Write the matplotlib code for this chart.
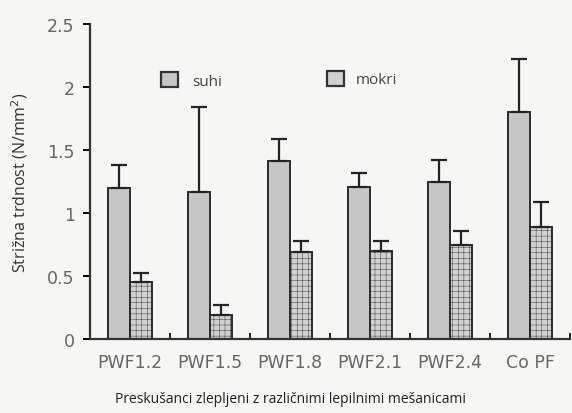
import numpy as np
import matplotlib
matplotlib.use("Agg")
import matplotlib.pyplot as plt
from matplotlib.patches import Patch

# data
groups = ["PWF1.2", "PWF1.5", "PWF1.8", "PWF2.1", "PWF2.4", "Co PF"]
suhi = [1.20, 1.17, 1.41, 1.21, 1.25, 1.80]
suhi_err = [0.18, 0.67, 0.18, 0.11, 0.17, 0.42]
mokri = [0.45, 0.19, 0.69, 0.70, 0.75, 0.89]
mokri_err = [0.07, 0.08, 0.09, 0.08, 0.11, 0.20]
yticks = [0, 0.5, 1, 1.5, 2, 2.5]
yticklabels = ["0", "0.5", "1", "1.5", "2", "2.5"]

bg = "#f6f6f4"
plt.rcParams["hatch.color"] = "#bdbdbd"
plt.rcParams["hatch.linewidth"] = 0.3

fig = plt.figure(figsize=(5.72, 4.14), dpi=100, facecolor=bg)
ax = fig.add_axes([90 / 572, 74 / 414, 480 / 572, 315 / 414])
ax.set_facecolor(bg)

x = np.arange(len(groups))
w = 0.28
errkw = dict(ecolor="#222222", elinewidth=1.6, capsize=6, capthick=1.6)
ax.bar(x - w / 2, suhi, w, color="#c6c6c6", edgecolor="#2a2a2a", linewidth=1.4,
       yerr=[np.zeros(len(suhi)), suhi_err], error_kw=errkw, zorder=2)
ax.bar(x + w / 2, mokri, w, color="#d0d0d0", edgecolor="#2a2a2a", linewidth=1.4,
       hatch="+++", yerr=[np.zeros(len(mokri)), mokri_err], error_kw=errkw, zorder=2)

ax.set_xlim(-0.5, 5.5)
ax.set_ylim(0, 2.5)
ax.spines["top"].set_visible(False)
ax.spines["right"].set_visible(False)
for s in ["left", "bottom"]:
    ax.spines[s].set_linewidth(1.6)
    ax.spines[s].set_color("#333333")

ax.set_yticks(yticks)
ax.set_yticklabels(yticklabels, fontsize=12.5, color="#666666")
ax.tick_params(axis="y", direction="out", length=5, width=1.4, pad=6)

ax.set_xticks(x)
ax.set_xticklabels(groups, fontsize=12.5, color="#666666")
ax.tick_params(axis="x", length=0, pad=10)
ax.set_xticks(x + 0.5, minor=True)
ax.tick_params(axis="x", which="minor", direction="in", length=4, width=1.2)

ax.set_ylabel("Strižna trdnost (N/mm$^2$)", family="Open Sans", fontsize=11.5,
              color="#333333")
ax.yaxis.set_label_coords(-0.125, 0.5)
ax.set_xlabel("Preskušanci zlepljeni z različnimi lepilnimi mešanicami",
              family="Open Sans", fontsize=10, color="#222222")
ax.xaxis.set_label_coords(0.417, -0.165)

h1 = Patch(facecolor="#c6c6c6", edgecolor="#333333", linewidth=1.6)
h2 = Patch(facecolor="#d0d0d0", edgecolor="#333333", linewidth=1.6)
leg1 = ax.legend([h1], ["suhi"], loc="center left", bbox_to_anchor=(0.12, 0.82),
                 frameon=False, handlelength=1.1, handleheight=1.1,
                 labelcolor="#444444", handletextpad=0.9, prop={"family": "Open Sans", "size": 11})
ax.add_artist(leg1)
ax.legend([h2], ["mokri"], loc="center left", bbox_to_anchor=(0.465, 0.825),
          frameon=False, handlelength=1.1, handleheight=1.1,
          labelcolor="#444444", handletextpad=0.8, prop={"family": "Open Sans", "size": 11})

fig.savefig("out.png", dpi=100, facecolor=bg)
